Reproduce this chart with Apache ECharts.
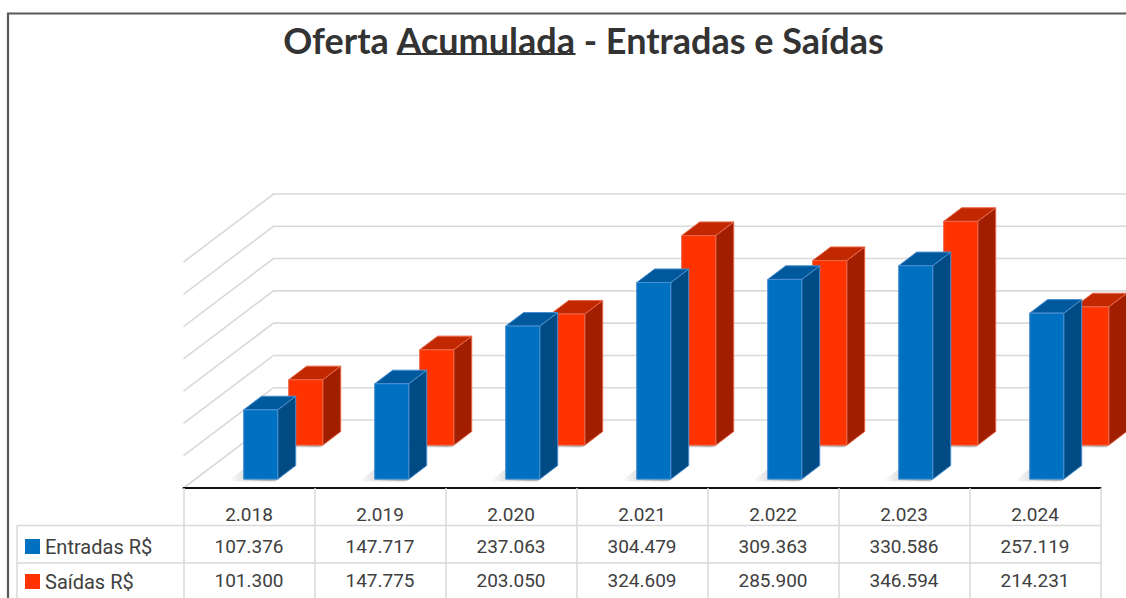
<!DOCTYPE html>
<html>
<head>
<meta charset="utf-8">
<script src="https://cdn.jsdelivr.net/npm/echarts@6/dist/echarts.min.js"></script>
<style>
html,body{margin:0;padding:0;background:#fff;}
#chart{width:1126px;height:598px;}
</style>
</head>
<body>
<div id="chart"></div>
<script>
// ---- data ----
const categories = ['2.018', '2.019', '2.020', '2.021', '2.022', '2.023', '2.024'];
const entradas = [107376, 147717, 237063, 304479, 309363, 330586, 257119];
const saidas = [101300, 147775, 203050, 324609, 285900, 346594, 214231];
const yTicks = [0, 50000, 100000, 150000, 200000, 250000, 300000, 350000];
const seriesNames = ['Entradas R$', 'Saídas R$'];
const titleParts = ['Oferta ', 'Acumulada', ' - Entradas e Saídas'];

// ---- helpers ----
function fmt(n) { return String(n).replace(/\B(?=(\d{3})+(?!\d))/g, '.'); }

const DEPTH_DX = 90, DEPTH_DY = -68;     // full floor depth projection
const BAR_DEPTH = 0.2;                   // fraction of floor depth
const textColor = '#404040';
const tableFont = 'Roboto';

function barRenderer(depth, c) {
  return function (params, api) {
    const i = api.value(0), v = api.value(1);
    const base = api.coord([i, 0]);
    const top = api.coord([i, v]);
    const band = api.size([1, 0])[0];
    const w = band * 0.26;
    const ox = DEPTH_DX * depth, oy = DEPTH_DY * depth;
    const ddx = DEPTH_DX * BAR_DEPTH, ddy = DEPTH_DY * BAR_DEPTH;
    const x0 = base[0] - w / 2 + ox, x1 = x0 + w;
    const yb = base[1] + oy, yt = top[1] + oy;
    const shadowFill = new echarts.graphic.LinearGradient(1, 0, 0, 0, [
      { offset: 0, color: 'rgba(0,0,0,0.0)' },
      { offset: 0.35, color: 'rgba(0,0,0,0.3)' },
      { offset: 1, color: 'rgba(0,0,0,0)' }
    ]);
    return {
      type: 'group',
      children: [
        { type: 'polygon', shape: { points: [[x0 - 16, yb + 2], [x1 - 2, yb + 2], [x1 + ddx - 2, yb + ddy + 2], [x0 + ddx - 16, yb + ddy + 2]] },
          style: { fill: shadowFill }, silent: true },
        { type: 'polygon', shape: { points: [[x1, yb], [x1, yt], [x1 + ddx, yt + ddy], [x1 + ddx, yb + ddy]] },
          style: { fill: c.side, stroke: c.edge, lineWidth: 1 } },
        { type: 'polygon', shape: { points: [[x0, yt], [x1, yt], [x1 + ddx, yt + ddy], [x0 + ddx, yt + ddy]] },
          style: { fill: c.top, stroke: c.edge, lineWidth: 1 } },
        { type: 'rect', shape: { x: x0, y: yt, width: w, height: yb - yt },
          style: { fill: c.front, stroke: c.edge, lineWidth: 1 } }
      ]
    };
  };
}

function wallRenderer(params, api) {
  const v = api.value(0);
  const gx = params.coordSys.x;
  const p = api.coord([0, v]);
  const y = p[1];
  return {
    type: 'polyline',
    shape: { points: [[gx, y], [gx + DEPTH_DX, y + DEPTH_DY], [gx + DEPTH_DX + 1200, y + DEPTH_DY]] },
    style: { stroke: '#d9d9d9', lineWidth: 1.6, fill: null },
    silent: true
  };
}

const blue = { front: '#0070C0', side: '#004B83', top: '#00599C', edge: '#4A8FD2' };
const red = { front: '#FF3300', side: '#A11F00', top: '#C22800', edge: '#E8684A' };

// title measurement
const mc = document.createElement('canvas').getContext('2d');
const titleFamily = 'Lato';
mc.font = 'bold 100px ' + titleFamily;
const fullW100 = mc.measureText(titleParts.join('')).width;
const titleSize = Math.round(100 * 601 / fullW100 * 10) / 10;
mc.font = 'bold ' + titleSize + 'px ' + titleFamily;
const fullW = mc.measureText(titleParts.join('')).width;
const preW = mc.measureText(titleParts[0]).width;
const accW = mc.measureText(titleParts[1]).width;
const titleCx = 583.5;
const titleX0 = titleCx - fullW / 2;

const chart = echarts.init(document.getElementById('chart'), null, { renderer: 'svg' });

const option = {
  backgroundColor: '#ffffff',
  animation: false,
  grid: { left: 183.5, width: 917, top: 262, bottom: 110, containLabel: false },
  legend: {
    data: seriesNames,
    orient: 'vertical',
    left: 25,
    top: 536.5,
    padding: 0,
    itemWidth: 15,
    itemHeight: 15,
    itemGap: 15,
    icon: 'rect',
    selectedMode: false,
    textStyle: { fontFamily: tableFont, fontSize: 20, color: textColor, lineHeight: 19 }
  },
  xAxis: [
    {
      type: 'category', data: categories, position: 'bottom',
      axisLine: { show: true, lineStyle: { color: '#111', width: 2.2 } },
      axisTick: { show: true, length: 112, lineStyle: { color: '#d9d9d9', width: 1.5 } },
      axisLabel: { margin: 26, verticalAlign: 'middle', fontFamily: tableFont, fontSize: 19, color: textColor },
      splitLine: { show: false }, z: 5
    },
    {
      type: 'category', data: categories, position: 'bottom', offset: 32,
      axisLine: { show: false }, axisTick: { show: false },
      axisLabel: { margin: 26, verticalAlign: 'middle', fontFamily: tableFont, fontSize: 19, color: textColor,
        formatter: function (val, idx) { return fmt(entradas[idx]); } }
    },
    {
      type: 'category', data: categories, position: 'bottom', offset: 66,
      axisLine: { show: false }, axisTick: { show: false },
      axisLabel: { margin: 26, verticalAlign: 'middle', fontFamily: tableFont, fontSize: 19, color: textColor,
        formatter: function (val, idx) { return fmt(saidas[idx]); } }
    }
  ],
  yAxis: {
    type: 'value', min: 0, max: 350000, interval: 50000, show: false
  },
  series: [
    {
      type: 'custom', name: 'walls', data: yTicks.map(v => [v]), renderItem: wallRenderer,
      clip: false, silent: true, z: 1, encode: { y: 0 }
    },
    {
      type: 'custom', name: seriesNames[1], data: saidas.map((v, i) => [i, v]),
      renderItem: barRenderer(0.63, red), itemStyle: { color: red.front }, z: 2, clip: false,
      encode: { x: 0, y: 1 }
    },
    {
      type: 'custom', name: seriesNames[0], data: entradas.map((v, i) => [i, v]),
      renderItem: barRenderer(0.13, blue), itemStyle: { color: blue.front }, z: 3, clip: false,
      encode: { x: 0, y: 1 }
    }
  ],
  graphic: [
    { type: 'rect', shape: { x: 8, y: 13.5, width: 1400, height: 800 },
      style: { fill: null, stroke: '#595959', lineWidth: 2.2 }, silent: true, z: 10 },
    { type: 'line', shape: { x1: 17, y1: 525.5, x2: 1100.5, y2: 525.5 }, style: { stroke: '#d9d9d9', lineWidth: 1.5 }, silent: true },
    { type: 'line', shape: { x1: 17, y1: 563, x2: 1100.5, y2: 563 }, style: { stroke: '#d9d9d9', lineWidth: 1.5 }, silent: true },
    { type: 'line', shape: { x1: 17, y1: 525.5, x2: 17, y2: 600 }, style: { stroke: '#d9d9d9', lineWidth: 1.5 }, silent: true },
    { type: 'text', x: titleCx, y: 40,
      style: { text: titleParts.join(''), font: 'bold ' + titleSize + 'px ' + titleFamily, fill: '#333333',
        textAlign: 'center', textVerticalAlign: 'middle' }, silent: true },
    { type: 'line', shape: { x1: titleX0 + preW, y1: 54, x2: titleX0 + preW + accW, y2: 54 },
      style: { stroke: '#333333', lineWidth: 2 }, silent: true }
  ]
};

chart.setOption(option);
</script>
</body>
</html>
